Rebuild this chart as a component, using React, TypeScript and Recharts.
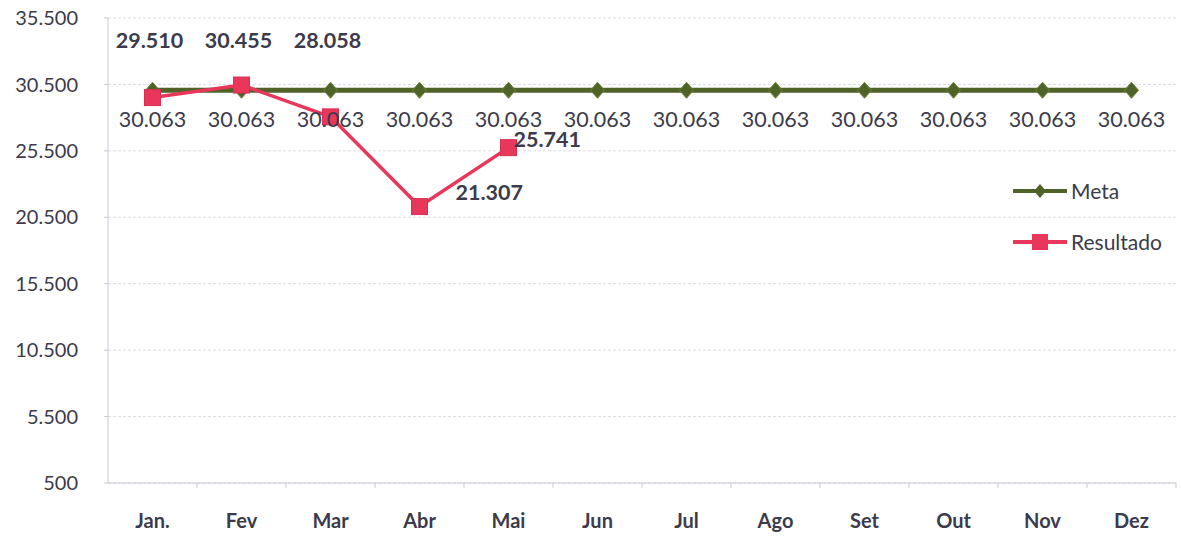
import { CartesianGrid, LabelList, Line, LineChart, XAxis, YAxis } from 'recharts'

const MONTHS = ['Jan.', 'Fev', 'Mar', 'Abr', 'Mai', 'Jun', 'Jul', 'Ago', 'Set', 'Out', 'Nov', 'Dez']
const META = [30063, 30063, 30063, 30063, 30063, 30063, 30063, 30063, 30063, 30063, 30063, 30063]
const RESULTADO: (number | null)[] = [29510, 30455, 28058, 21307, 25741, null, null, null, null, null, null, null]
const Y_TICKS = [500, 5500, 10500, 15500, 20500, 25500, 30500, 35500]

const data = MONTHS.map((month, i) => ({ month, meta: META[i], resultado: RESULTADO[i] }))

const W = 1182
const H = 538
const Y_AXIS_W = 108
const RIGHT = 6
const BAND = (W - Y_AXIS_W - RIGHT) / MONTHS.length

const FONT = 'Lato, "Open Sans", sans-serif'
const TEXT = '#3b3b4b'
const META_COLOR = '#4f6228'
const RES_COLOR = '#e8375b'

const fmt = (v: number) => v.toLocaleString('pt-BR')

function Diamond({ cx, cy }: { cx?: number; cy?: number }) {
  if (cx == null || cy == null) return null
  return <path d={`M${cx},${cy - 8}L${cx + 7},${cy}L${cx},${cy + 8}L${cx - 7},${cy}Z`} fill={META_COLOR} stroke="#6f7f3a" strokeWidth={1} />
}

function Square({ cx, cy }: { cx?: number; cy?: number }) {
  if (cx == null || cy == null) return null
  return <rect x={cx - 8} y={cy - 8} width={16} height={16} fill={RES_COLOR} stroke="#d92e52" strokeWidth={1} />
}

function MetaLabel(props: { x?: number; y?: number; value?: number }) {
  const { x = 0, y = 0, value } = props
  if (value == null) return null
  return (
    <text x={x} y={y + 31} textAnchor="middle" dominantBaseline="middle" fontFamily={FONT} fontSize={21.5} fill={TEXT}>
      {fmt(value)}
    </text>
  )
}

function ResLabel(props: { x?: number; y?: number; value?: number; index?: number }) {
  const { x = 0, y = 0, value, index = 0 } = props
  if (value == null) return null
  // first three sit in a row near the top, the rest to the right of the point
  const above = index < 3
  return (
    <text
      x={above ? x - 3 : index === 3 ? x + 36 : x + 5}
      y={above ? 42 : index === 3 ? y - 12 : y - 6}
      textAnchor={above ? 'middle' : 'start'}
      dominantBaseline="middle"
      fontFamily={FONT}
      fontSize={21.5}
      fontWeight={700}
      fill={TEXT}
    >
      {fmt(value)}
    </text>
  )
}

function MonthTick(props: { x?: number; y?: number; payload?: { value: string } }) {
  const { x = 0, y = 0, payload } = props
  return (
    <g>
      <line x1={x + BAND / 2} x2={x + BAND / 2} y1={y} y2={y + 5} stroke="#c8c8d2" />
      <text x={x} y={y + 40} textAnchor="middle" dominantBaseline="middle" fontFamily={FONT} fontSize={20} fontWeight={700} fill={TEXT}>
        {payload?.value}
      </text>
    </g>
  )
}

function LegendIcon({ color, square }: { color: string; square?: boolean }) {
  return (
    <svg width={54} height={20} style={{ marginRight: 4 }}>
      <line x1={0} x2={54} y1={10} y2={10} stroke={color} strokeWidth={4} />
      {square ? <rect x={19} y={2} width={16} height={16} fill={color} /> : <path d="M27,3L33,10L27,17L21,10Z" fill={color} />}
    </svg>
  )
}

function LegendBox() {
  const row = { display: 'flex', alignItems: 'center', height: 51, fontFamily: FONT, fontSize: 21, color: TEXT }
  return (
    <div style={{ position: 'absolute', top: 165, left: 1013 }}>
      <div style={row}>
        <LegendIcon color={META_COLOR} />
        Meta
      </div>
      <div style={row}>
        <LegendIcon color={RES_COLOR} square />
        Resultado
      </div>
    </div>
  )
}

export default function App() {
  return (
    <div style={{ position: 'absolute', left: 0, top: 0, width: W, height: H, background: '#fff' }}>
      <LineChart width={W} height={H} data={data} margin={{ top: 18, right: RIGHT, left: 0, bottom: 0 }}>
        <CartesianGrid horizontal vertical={false} stroke="#dcdce6" strokeDasharray="3 2" />
        <XAxis
          dataKey="month"
          scale="band"
          height={55}
          axisLine={{ stroke: '#c8c8d2' }}
          tickLine={false}
          tickSize={0}
          tickMargin={0}
          interval={0}
          tick={<MonthTick />}
        />
        <YAxis
          domain={[500, 35500]}
          ticks={Y_TICKS}
          width={Y_AXIS_W}
          axisLine={{ stroke: '#c8c8d2' }}
          tickLine={{ stroke: '#c8c8d2' }}
          tickSize={4}
          tickMargin={26}
          tickFormatter={fmt}
          tick={{ fontFamily: FONT, fontSize: 20, fill: TEXT }}
        />
        <Line
          type="linear"
          dataKey="meta"
          name="Meta"
          stroke={META_COLOR}
          strokeWidth={5}
          dot={<Diamond />}
          activeDot={false}
          isAnimationActive={false}
        >
          <LabelList dataKey="meta" content={<MetaLabel />} />
        </Line>
        <Line
          type="linear"
          dataKey="resultado"
          name="Resultado"
          stroke={RES_COLOR}
          strokeWidth={3.5}
          dot={<Square />}
          activeDot={false}
          connectNulls={false}
          isAnimationActive={false}
        >
          <LabelList dataKey="resultado" content={<ResLabel />} />
        </Line>
      </LineChart>
      <LegendBox />
    </div>
  )
}
